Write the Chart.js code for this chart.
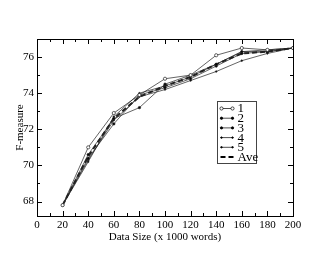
<!DOCTYPE html>
<html><head><meta charset="utf-8">
<script src="https://cdn.jsdelivr.net/npm/chart.js@4/dist/chart.umd.min.js"></script>
<style>html,body{margin:0;padding:0;background:#fff}#wrap{width:330px;height:255px}</style>
</head><body><div id="wrap"><canvas id="c" width="330" height="255"></canvas></div>
<script>
const dataSizes = [20, 40, 60, 80, 100, 120, 140, 160, 180, 200];
const xTicks = [0, 20, 40, 60, 80, 100, 120, 140, 160, 180, 200];
const yTicks = [68, 70, 72, 74, 76];
const seriesNames = ["1", "2", "3", "4", "5", "Ave"];
const run1 = [67.8, 71.0, 72.9, 73.9, 74.8, 75.0, 76.1, 76.5, 76.4, 76.5];
const run2 = [67.8, 70.6, 72.6, 73.2, 74.5, 75.0, 75.6, 76.3, 76.3, 76.5];
const run3 = [67.8, 70.4, 72.3, 73.9, 74.3, 74.8, 75.5, 76.2, 76.3, 76.5];
const run4 = [67.8, 70.2, 72.7, 74.0, 74.4, 74.9, 75.6, 76.3, 76.4, 76.5];
const run5 = [67.8, 70.3, 72.5, 73.8, 74.2, 74.7, 75.2, 75.8, 76.2, 76.5];
const ave  = [67.8, 70.5, 72.6, 73.8, 74.4, 74.9, 75.6, 76.2, 76.3, 76.5];

const FONT = "'Liberation Serif', 'DejaVu Serif', serif";
function pts(arr){ return dataSizes.map((x,i)=>({x:x, y:arr[i]})); }

const styles = [
  {r:1.6, bg:'#fff', dash:[], w:0.7},
  {r:1.2, bg:'#000', dash:[], w:0.7},
  {r:1.2, bg:'#000', dash:[], w:0.7},
  {r:0.8, bg:'#000', dash:[], w:0.7},
  {r:0.8, bg:'#000', dash:[], w:0.7},
  {r:0, bg:'#000', dash:[5,3], w:2}
];
const allData = [run1, run2, run3, run4, run5, ave];
const datasets = allData.map((arr,i)=>({
  label: seriesNames[i],
  data: pts(arr),
  borderColor: '#222',
  backgroundColor: styles[i].bg,
  pointBorderColor: '#222',
  pointBackgroundColor: styles[i].bg,
  pointRadius: styles[i].r,
  pointBorderWidth: 0.7,
  borderWidth: styles[i].w,
  borderDash: styles[i].dash,
  tension: 0,
  fill: false
}));

const frame = {
  id: 'frame',
  afterDraw(chart){
    const {ctx, chartArea:a, scales:{x, y}} = chart;
    ctx.save();
    ctx.strokeStyle = '#000';
    ctx.lineWidth = 1;
    ctx.strokeRect(Math.round(a.left)+0.5, Math.round(a.top)+0.5, Math.round(a.right-a.left), Math.round(a.bottom-a.top));
    ctx.beginPath();
    for (let v = 0; v <= 200; v += 10) {
      const px = Math.round(x.getPixelForValue(v)) + 0.5;
      const L = (v % 20 === 0) ? 5 : 3;
      ctx.moveTo(px, a.bottom); ctx.lineTo(px, a.bottom - L);
      ctx.moveTo(px, a.top); ctx.lineTo(px, a.top + L);
    }
    for (let v = 68; v <= 77; v += 1) {
      const py = Math.round(y.getPixelForValue(v)) + 0.5;
      const L = (v % 2 === 0) ? 5 : 3;
      ctx.moveTo(a.left, py); ctx.lineTo(a.left + L, py);
      ctx.moveTo(a.right, py); ctx.lineTo(a.right - L, py);
    }
    ctx.stroke();

    // legend box
    const bx = 217.5, by = 101.5, bw = 39, bh = 62;
    ctx.lineWidth = 1;
    ctx.strokeStyle = '#444';
    ctx.fillStyle = '#fff';
    ctx.fillRect(bx, by, bw, bh);
    ctx.strokeRect(bx, by, bw, bh);
    ctx.strokeStyle = '#000';
    ctx.font = "13px " + FONT;
    ctx.textBaseline = 'middle';
    chart.data.datasets.forEach((ds, i) => {
      const cy = by + 7 + i * 9.7;
      ctx.beginPath();
      ctx.setLineDash(ds.borderDash || []);
      ctx.lineWidth = ds.borderWidth;
      ctx.moveTo(bx + 3, cy); ctx.lineTo(bx + 16, cy);
      ctx.stroke();
      ctx.setLineDash([]);
      if (ds.pointRadius > 0) {
        ctx.lineWidth = 0.7;
        ctx.fillStyle = ds.pointBackgroundColor;
        [bx + 4, bx + 15].forEach(px => {
          ctx.beginPath(); ctx.arc(px, cy, ds.pointRadius, 0, Math.PI*2); ctx.fill(); ctx.stroke();
        });
      }
      ctx.fillStyle = '#000';
      ctx.fillText(ds.label, bx + 20, cy + 0.5);
    });
    ctx.restore();
  }
};

new Chart(document.getElementById('c'), {
  type: 'line',
  data: { datasets },
  options: {
    responsive: false,
    animation: false,
    devicePixelRatio: 1,
    layout: { padding: { top: 39, right: 37, left: 14, bottom: 11 } },
    plugins: { legend: { display: false }, tooltip: { enabled: false } },
    scales: {
      x: {
        type: 'linear', min: 0, max: 200,
        afterBuildTicks(s){ s.ticks = xTicks.map(v=>({value:v})); },
        afterFit(s){ s.height = 28; },
        grid: { display: false, drawTicks: false },
        border: { display: false },
        ticks: { color: '#000', padding: 3, maxRotation: 0, font: { family: FONT, size: 11 } },
        title: { display: true, text: 'Data Size (x 1000 words)', color: '#000', padding: 0, font: { family: FONT, size: 11 } }
      },
      y: {
        type: 'linear', min: 67.2, max: 77,
        afterBuildTicks(s){ s.ticks = yTicks.map(v=>({value:v})); },
        afterFit(s){ s.width = 23; },
        grid: { display: false, drawTicks: false },
        border: { display: false },
        ticks: { color: '#000', padding: 3, font: { family: FONT, size: 11 } },
        title: { display: true, text: 'F-measure', color: '#000', padding: 0, font: { family: FONT, size: 11 } }
      }
    }
  },
  plugins: [frame]
});
</script></body></html>
